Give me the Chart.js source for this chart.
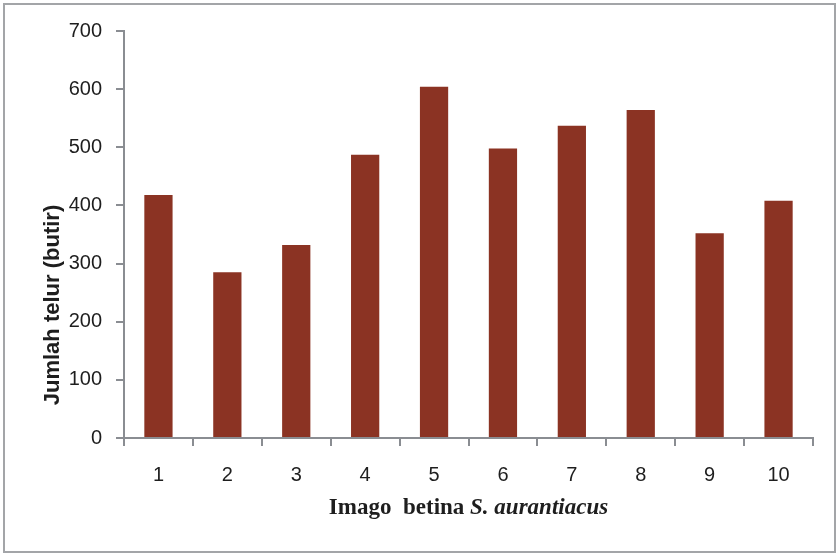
<!DOCTYPE html>
<html>
<head>
<meta charset="utf-8">
<script src="https://cdn.jsdelivr.net/npm/chart.js@4"></script>
<style>
  html, body { margin: 0; padding: 0; background: #ffffff; }
  #wrap { position: relative; width: 837px; height: 555px; }
  #frame {
    position: absolute; left: 3px; top: 3px; width: 829px; height: 546px;
    border: 2px solid #a3a5a8; pointer-events: none;
  }
  canvas { position: absolute; left: 0; top: 0; }
</style>
</head>
<body>
<div id="wrap">
  <canvas id="c" width="837" height="555"></canvas>
  <div id="frame"></div>
</div>
<script>
// Egg counts per female imago
const categories = ['1', '2', '3', '4', '5', '6', '7', '8', '9', '10'];
const eggCounts = [418, 285, 332, 487, 604, 498, 537, 564, 352, 408];
const yTicks = [0, 100, 200, 300, 400, 500, 600, 700];

const yTitle = 'Jumlah telur (butir)';
const xTitlePlain = 'Imago  betina ';
const xTitleItalic = 'S. aurantiacus';

const axisGray = '#8a8d92';
const textColor = '#1e1e1e';
const barColor = '#8b3323';

// Axis titles: the x title mixes bold and bold-italic, so both are drawn here
const axisTitles = {
  id: 'axisTitles',
  afterDraw(chart) {
    const ctx = chart.ctx;
    const area = chart.chartArea;
    ctx.save();
    ctx.fillStyle = textColor;

    // x-axis title, centred under the plot area
    const fPlain = 'bold 23px "Liberation Serif", serif';
    const fItalic = 'italic bold 23px "Liberation Serif", serif';
    ctx.font = fPlain;
    const w1 = ctx.measureText(xTitlePlain).width;
    ctx.font = fItalic;
    const w2 = ctx.measureText(xTitleItalic).width;
    const cx = (area.left + area.right) / 2;
    let x = cx - (w1 + w2) / 2;
    const baseY = 514;
    ctx.textBaseline = 'alphabetic';
    ctx.textAlign = 'left';
    ctx.font = fPlain;
    ctx.fillText(xTitlePlain, x, baseY);
    ctx.font = fItalic;
    ctx.fillText(xTitleItalic, x + w1, baseY);

    // y-axis title, rotated
    ctx.translate(53, 305);
    ctx.rotate(-Math.PI / 2);
    ctx.font = 'bold 22px "Liberation Sans", Arial, sans-serif';
    ctx.textAlign = 'center';
    ctx.textBaseline = 'middle';
    ctx.fillText(yTitle, 0, 0);
    ctx.restore();
  }
};

new Chart(document.getElementById('c'), {
  type: 'bar',
  data: {
    labels: categories,
    datasets: [{
      data: eggCounts,
      backgroundColor: barColor,
      borderWidth: 0,
      barPercentage: 0.41,
      categoryPercentage: 1.0
    }]
  },
  options: {
    responsive: false,
    devicePixelRatio: 1,
    animation: false,
    layout: { padding: { top: 31, right: 24, bottom: 0, left: 0 } },
    plugins: {
      legend: { display: false },
      tooltip: { enabled: false }
    },
    scales: {
      x: {
        afterFit(scale) { scale.height = 117; },
        grid: {
          offset: true,
          drawOnChartArea: false,
          drawTicks: true,
          tickLength: 8,
          color: axisGray,
          lineWidth: 2
        },
        border: { display: true, color: axisGray, width: 2 },
        ticks: {
          color: textColor,
          padding: 17,
          maxRotation: 0,
          font: { family: '"Liberation Sans", Arial, sans-serif', size: 20 }
        }
      },
      y: {
        min: 0,
        max: 700,
        afterFit(scale) { scale.width = 124; },
        afterBuildTicks(scale) { scale.ticks = yTicks.map(v => ({ value: v })); },
        grid: {
          drawOnChartArea: false,
          drawTicks: true,
          tickLength: 8,
          color: axisGray,
          lineWidth: 2
        },
        border: { display: true, color: axisGray, width: 2 },
        ticks: {
          color: textColor,
          padding: 14,
          font: { family: '"Liberation Sans", Arial, sans-serif', size: 20 }
        }
      }
    }
  },
  plugins: [axisTitles]
});
</script>
</body>
</html>
